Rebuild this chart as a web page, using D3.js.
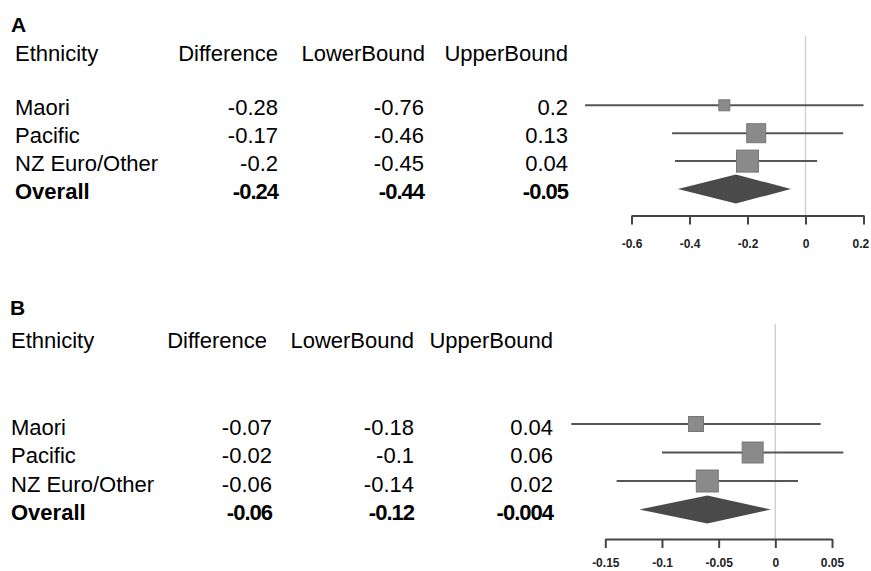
<!DOCTYPE html>
<html>
<head>
<meta charset="utf-8">
<script src="https://cdn.jsdelivr.net/npm/d3@7"></script>
<style>
  body { margin: 0; background: #fff; }
  svg { display: block; font-family: "Liberation Sans", Arial, sans-serif; }
</style>
</head>
<body>
<div id="chart"></div>
<script>
// rows shared by both panels
const ethnicity = ["Maori", "Pacific", "NZ Euro/Other", "Overall"];
const headers = ["Ethnicity", "Difference", "LowerBound", "UpperBound"];

// panel A
const diffA = [-0.28, -0.17, -0.2, -0.24];
const lowerA = [-0.76, -0.46, -0.45, -0.44];
const upperA = [0.2, 0.13, 0.04, -0.05];
const weightA = [12.5, 37.4, 50.1];   // study weights (%) -> square size
const ticksA = [-0.6, -0.4, -0.2, 0, 0.2];

// panel B
const diffB = [-0.07, -0.02, -0.06, -0.06];
const lowerB = [-0.18, -0.1, -0.14, -0.12];
const upperB = [0.04, 0.06, 0.02, -0.004];
const weightB = [19.6, 38.3, 42.1];
const ticksB = [-0.15, -0.1, -0.05, 0, 0.05];

const W = 871, H = 571;
const svg = d3.select("#chart").append("svg")
    .attr("width", W)
    .attr("height", H);

function drawPanel(p) {
    const g = svg.append("g");

    // panel letter
    g.append("text")
        .attr("x", p.letterX).attr("y", p.letterY)
        .style("font-size", "21px").style("font-weight", "bold")
        .text(p.letter);

    // header row
    g.selectAll("text.head").data(headers).enter().append("text")
        .attr("class", "head")
        .attr("x", (d, i) => i === 0 ? p.nameX : p.headEnd[i - 1])
        .attr("y", p.headY)
        .attr("text-anchor", (d, i) => i === 0 ? "start" : "end")
        .style("font-size", "22px")
        .style("fill", "#000")
        .text(d => d);

    const y = d3.scalePoint().domain(ethnicity).range(p.rowRange);
    const x = d3.scaleLinear().domain(p.domain).range(p.xRange);
    const side = d3.scaleSqrt().domain([0, d3.max(p.weight)]).range([0, p.maxSide]);

    const rows = ethnicity.map((name, i) => ({
        name, diff: p.diff[i], lo: p.lower[i], hi: p.upper[i], w: p.weight[i],
        overall: name === "Overall"
    }));

    // table text
    const cols = [d => d.name, d => String(d.diff), d => String(d.lo), d => String(d.hi)];
    cols.forEach((f, c) => {
        g.selectAll(null).data(rows).enter().append("text")
            .attr("x", c === 0 ? p.nameX : p.valEnd[c - 1])
            .attr("y", d => y(d.name) + p.textDy)
            .attr("text-anchor", c === 0 ? "start" : "end")
            .style("font-size", "22px")
            .style("font-weight", d => d.overall ? "bold" : "normal")
            .style("letter-spacing", d => d.overall && c > 0 ? "-1px" : null)
            .style("fill", "#000")
            .text(f);
    });

    // zero reference line
    g.append("line")
        .attr("x1", x(0)).attr("x2", x(0))
        .attr("y1", p.zeroTop).attr("y2", p.axisY)
        .attr("stroke", "#d0d0d0").attr("stroke-width", 1.5);

    const studies = rows.filter(d => !d.overall);

    // confidence intervals
    g.selectAll(null).data(studies).enter().append("line")
        .attr("x1", d => x(d.lo)).attr("x2", d => x(d.hi))
        .attr("y1", d => y(d.name)).attr("y2", d => y(d.name))
        .attr("stroke", "#555").attr("stroke-width", 2);

    // point estimates
    g.selectAll(null).data(studies).enter().append("rect")
        .attr("x", d => x(d.diff) - side(d.w) / 2)
        .attr("y", d => y(d.name) - side(d.w) / 2)
        .attr("width", d => side(d.w))
        .attr("height", d => side(d.w))
        .attr("fill", "#8a8a8a")
        .attr("stroke", "#777").attr("stroke-width", 1);

    // pooled estimate diamond
    const o = rows.find(d => d.overall);
    const oy = y(o.name);
    g.append("path")
        .attr("d", `M${x(o.lo)},${oy}L${x(o.diff)},${oy - p.diamondH}L${x(o.hi)},${oy}L${x(o.diff)},${oy + p.diamondH}Z`)
        .attr("fill", "#4a4a4a");

    // x axis
    const axis = g.append("g")
        .attr("transform", `translate(0,${p.axisY})`)
        .call(d3.axisBottom(x)
            .tickValues(p.ticks)
            .tickFormat(d => String(d))
            .tickSizeInner(9)
            .tickSizeOuter(0)
            .tickPadding(p.tickPad));
    axis.select(".domain").attr("stroke", "#444").attr("stroke-width", 2);
    axis.selectAll(".tick line").attr("stroke", "#444").attr("stroke-width", 2);
    axis.selectAll(".tick text")
        .style("font-family", "'Liberation Sans', Arial, sans-serif")
        .style("font-size", "12px")
        .style("font-weight", "bold")
        .style("fill", "#222");

    // keep the last label inside the page, as the reference does
    axis.selectAll(".tick text").each(function (d) {
        const b = this.getBBox();
        const right = x(d) + b.x + b.width;
        if (right > W - 2) d3.select(this).attr("x", W - 2 - right);
    });
}

drawPanel({
    letter: "A", letterX: 11, letterY: 32,
    nameX: 15, headY: 61, headEnd: [278, 425, 568], valEnd: [278, 424, 568],
    rowRange: [105.3, 189], textDy: 10,
    diff: diffA, lower: lowerA, upper: upperA, weight: weightA, maxSide: 22,
    domain: [-0.6, 0.2], xRange: [631.5, 863.5], ticks: ticksA,
    axisY: 215.5, zeroTop: 36, diamondH: 14.5, tickPad: 15
});

drawPanel({
    letter: "B", letterX: 10, letterY: 315,
    nameX: 11, headY: 348, headEnd: [267, 414, 553], valEnd: [272, 414, 553],
    rowRange: [424, 509.5], textDy: 10.5,
    diff: diffB, lower: lowerB, upper: upperB, weight: weightB, maxSide: 22,
    domain: [-0.15, 0.05], xRange: [605.3, 832], ticks: ticksB,
    axisY: 539, zeroTop: 324, diamondH: 14, tickPad: 10
});
</script>
</body>
</html>
